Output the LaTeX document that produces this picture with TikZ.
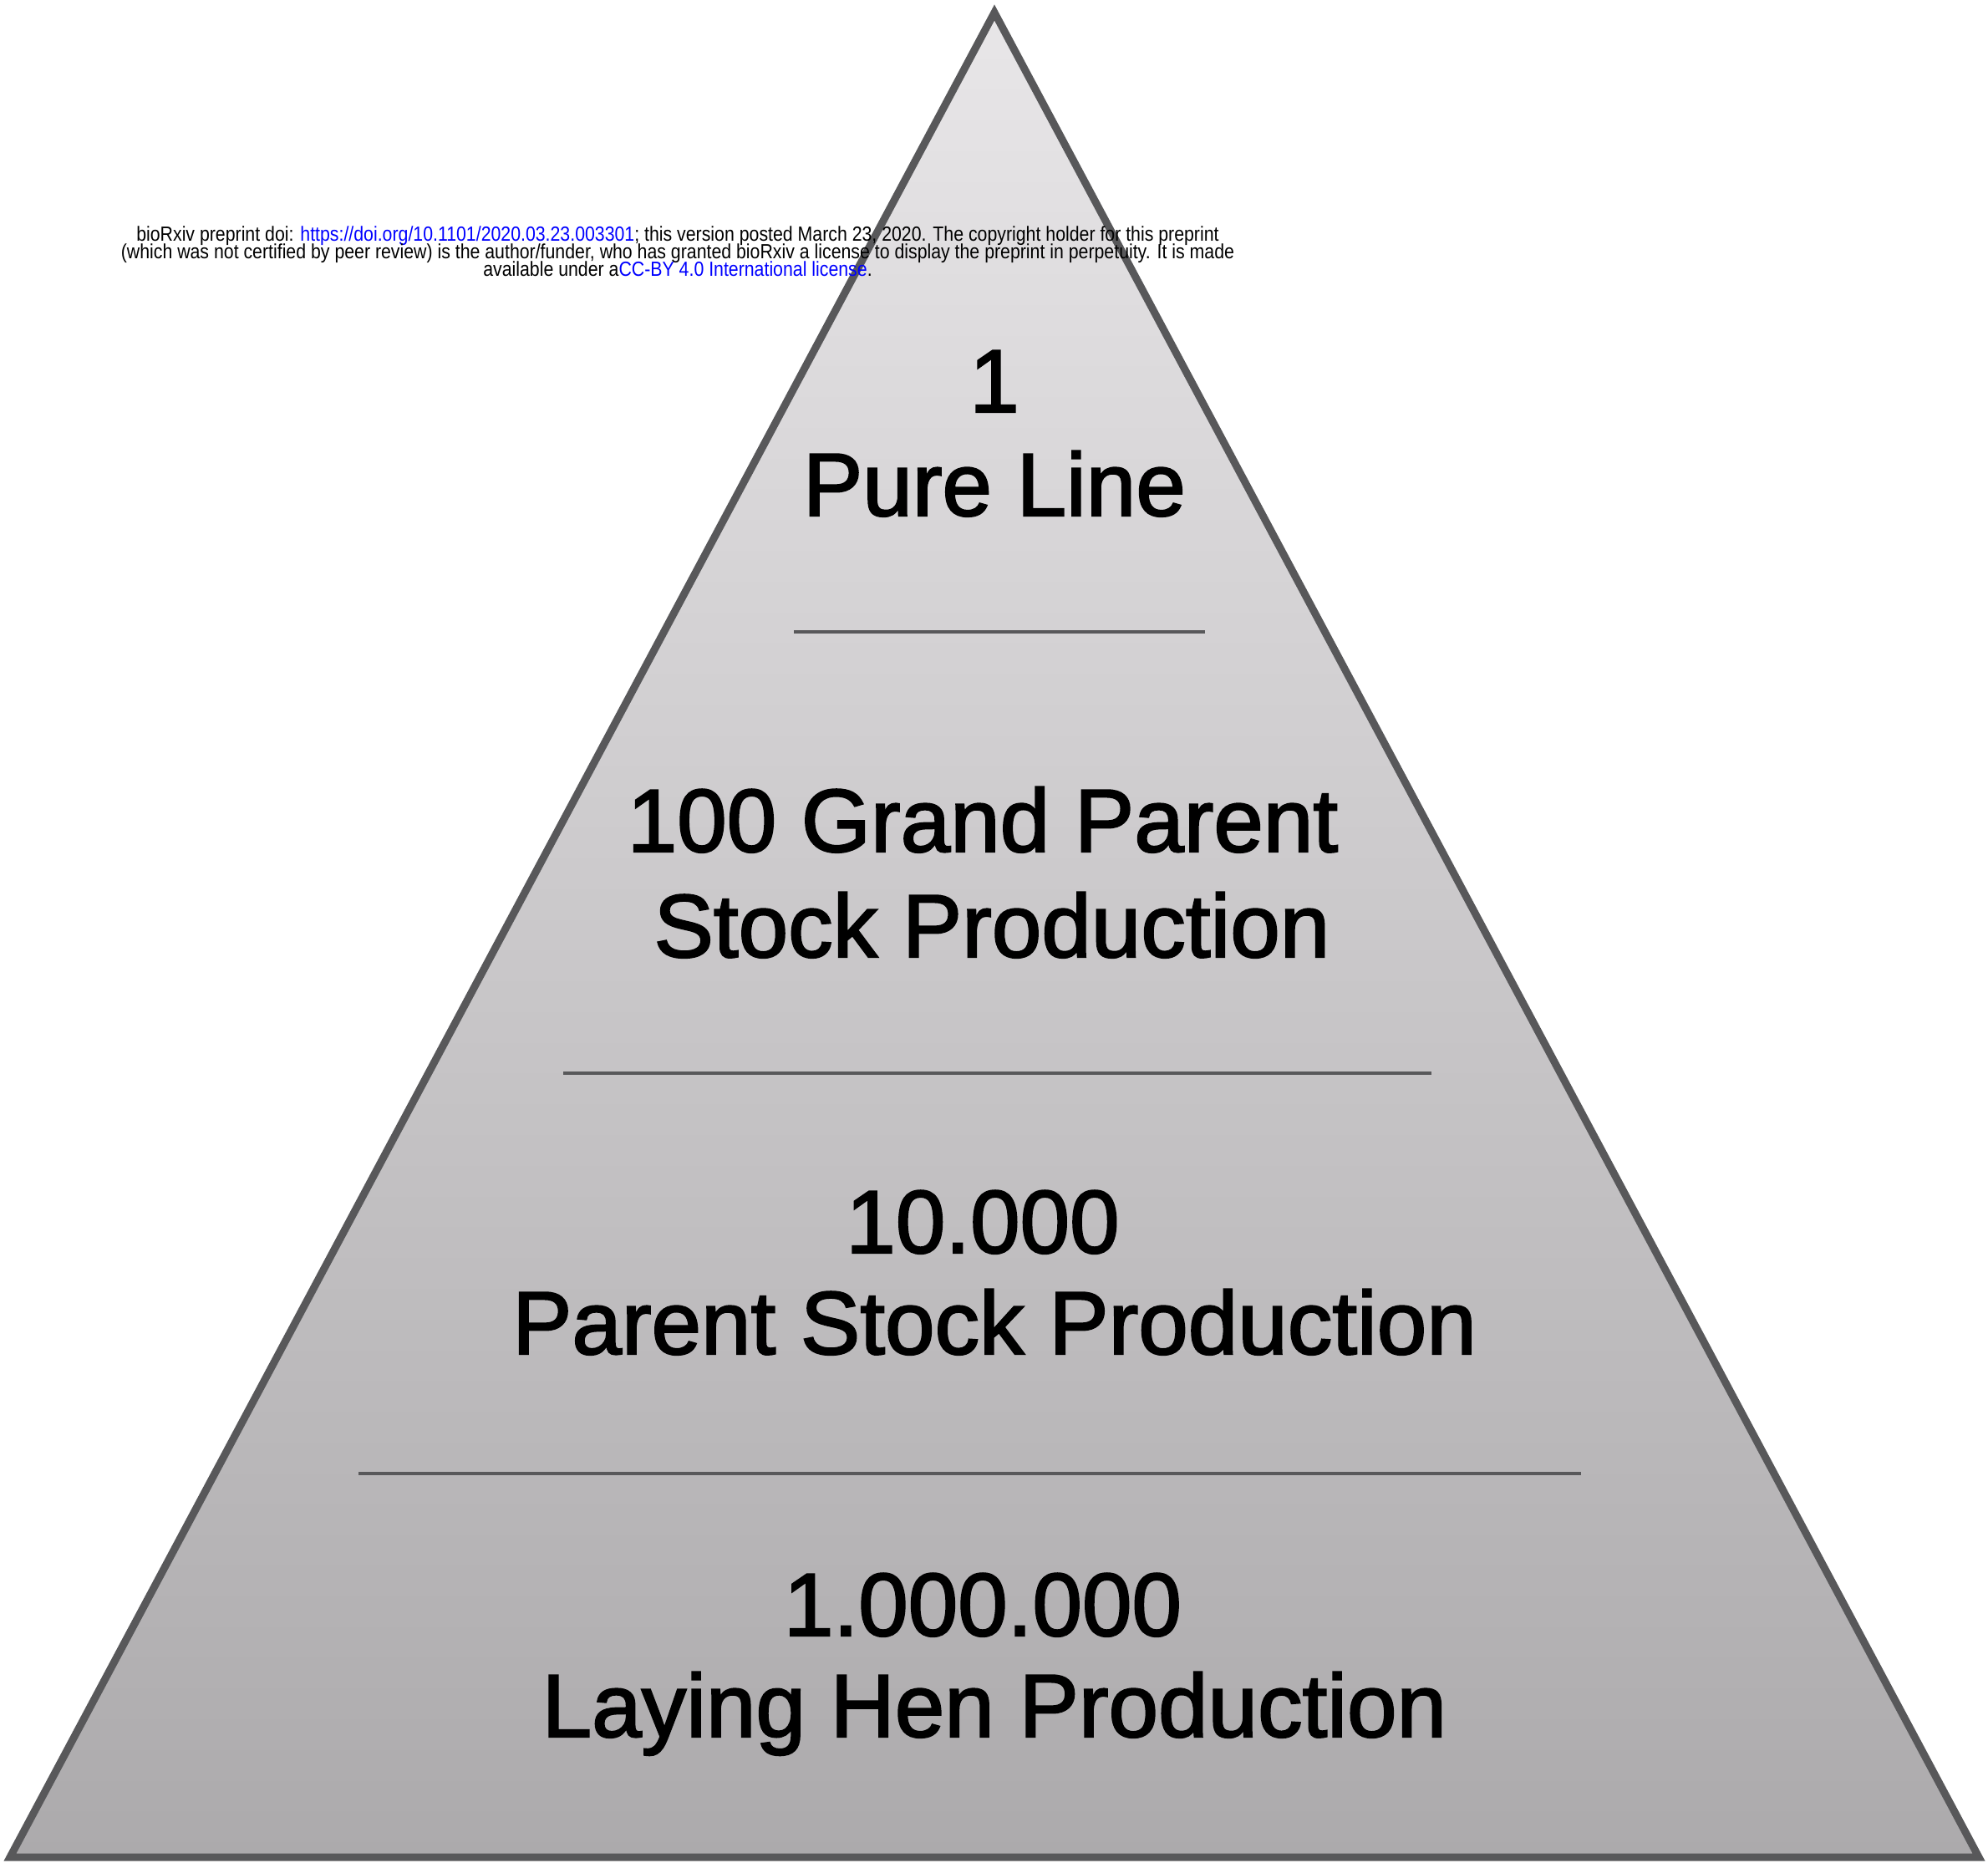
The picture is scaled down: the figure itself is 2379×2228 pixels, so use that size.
\documentclass[tikz,border=0pt]{standalone}
\usepackage{fontspec}
\setmainfont{Liberation Sans}
\newfontfamily\bigfont[FakeBold=2]{Liberation Sans}
\definecolor{linkblue}{RGB}{0,0,255}
\definecolor{edgegray}{RGB}{88,88,90}
\definecolor{topfill}{RGB}{232,230,232}
\definecolor{botfill}{RGB}{172,170,172}
\begin{document}
\begin{tikzpicture}[x=1pt,y=-1pt,
  big/.style={font=\bigfont\fontsize{107}{120}\selectfont, anchor=base, inner sep=0pt},
  hdr/.style={font=\fontsize{21.3}{21}\selectfont, anchor=base, inner sep=0pt},
  divider/.style={draw=edgegray, line width=4.5pt}]
\useasboundingbox (0,0) rectangle (2379,2228);
% triangle
\coordinate (apex) at (1190,15);
\coordinate (bl) at (12,2222);
\coordinate (br) at (2368,2222);
\shade[top color=topfill, bottom color=botfill] (apex) -- (bl) -- (br) -- cycle;
\draw[edgegray, line width=9pt, line join=miter] (apex) -- (bl) -- (br) -- cycle;
% dividers
\draw[divider] (950,756) -- (1442,756);
\draw[divider] (674,1284) -- (1713,1284);
\draw[divider] (429,1763) -- (1892,1763);
% labels
\node[big] (n1) at (1190,493) {1};
\node[big] (n1b) at (1190,617) {Pure Line};
\node[big] (n2) at (1176,1019) {100 Grand Parent};
\node[big] (n2b) at (1187,1145) {Stock Production};
\node[big] (n3) at (1176,1499) {10.000};
\node[big] (n3b) at (1190,1620) {Parent Stock Production};
\node[big] (n4) at (1176,1957) {1.000.000};
\node[big] (n4b) at (1190,2078) {Laying Hen Production};
% header
\node[hdr] (h1) at (811,288) {\scalebox{1}[1.15]{bioRxiv preprint doi: \textcolor{linkblue}{https://doi.org/10.1101/2020.03.23.003301}; this version posted March 23, 2020. The copyright holder for this preprint}};
\node[hdr] (h2) at (811,309) {\scalebox{1}[1.15]{(which was not certified by peer review) is the author/funder, who has granted bioRxiv a license to display the preprint in perpetuity. It is made}};
\node[hdr] (h3) at (811,330) {\scalebox{1}[1.15]{available under a\textcolor{linkblue}{CC-BY 4.0 International license}.}};
\end{tikzpicture}
\end{document}
